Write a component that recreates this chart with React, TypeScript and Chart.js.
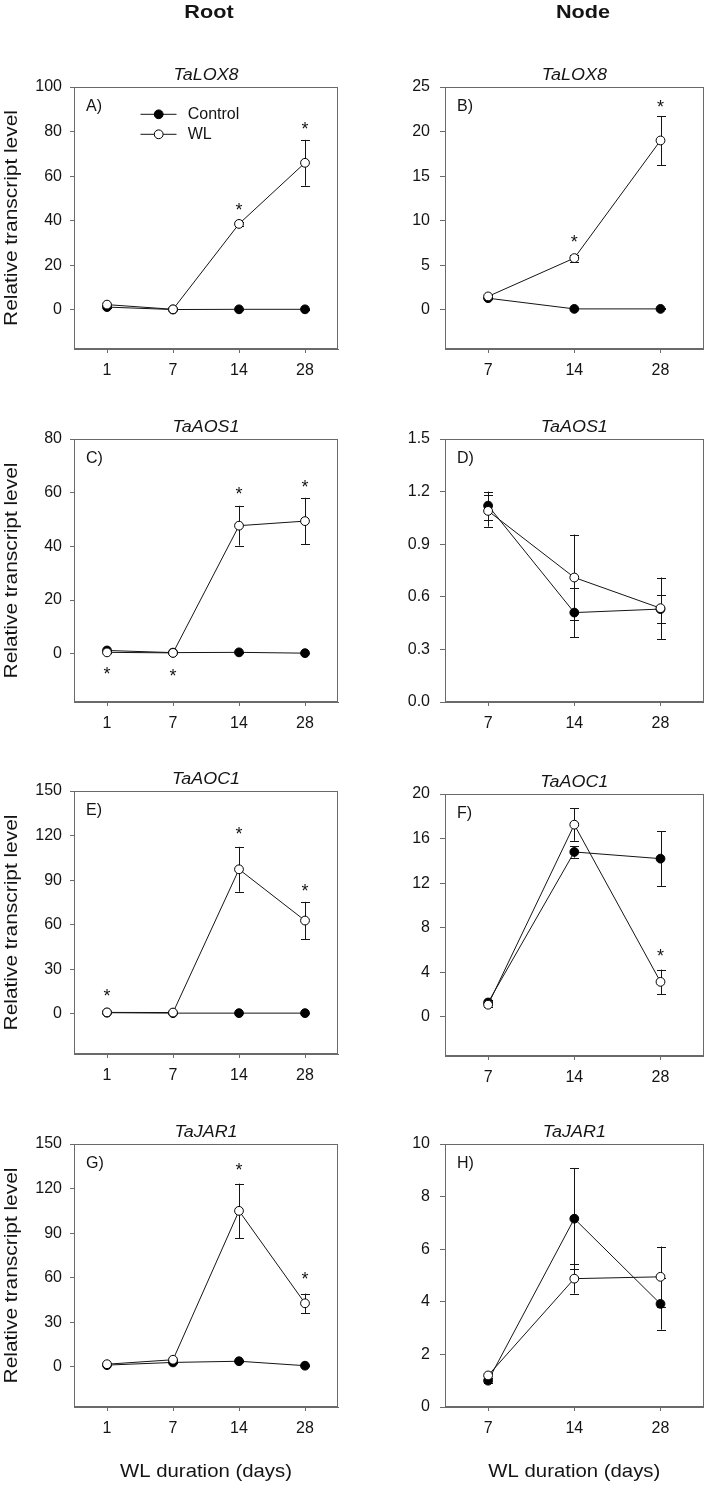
import React, { useEffect, useRef } from "react";
import { Chart, registerables } from "chart.js";

Chart.register(...registerables);

const FONT = "'Liberation Sans', Arial, Helvetica, sans-serif";

// ---------- categories ----------
const rootDays = ["1", "7", "14", "28"];
const nodeDays = ["7", "14", "28"];

// ---------- A) Root TaLOX8 ----------
const lox8RootControl = [1.3, 0.2, 0.3, 0.3];
const lox8RootControlErr = [0.3, 0.1, 0.1, 0.1];
const lox8RootWL = [2.4, 0.3, 38.6, 66.0];
const lox8RootWLErr = [0.4, 0.1, 1.0, 10.3];
const lox8RootStars = [[2, 47], [3, 83]];
const lox8RootTicks = [0, 20, 40, 60, 80, 100];

// ---------- B) Node TaLOX8 ----------
const lox8NodeControl = [1.3, 0.1, 0.1];
const lox8NodeControlErr = [0.1, 0.05, 0.05];
const lox8NodeWL = [1.5, 5.8, 19.0];
const lox8NodeWLErr = [0.2, 0.4, 2.75];
const lox8NodeStars = [[1, 8.1], [2, 23.3]];
const lox8NodeTicks = [0, 5, 10, 15, 20, 25];

// ---------- C) Root TaAOS1 ----------
const aos1RootControl = [1.2, 0.4, 0.5, 0.2];
const aos1RootControlErr = [0.3, 0.1, 0.2, 0.1];
const aos1RootWL = [0.5, 0.3, 47.7, 49.4];
const aos1RootWLErr = [0.2, 0.1, 7.4, 8.7];
const aos1RootStars = [[0, -6], [1, -6.6], [2, 61], [3, 63.7]];
const aos1RootTicks = [0, 20, 40, 60, 80];

// ---------- D) Node TaAOS1 ----------
const aos1NodeControl = [1.12, 0.51, 0.53];
const aos1NodeControlErr = [0.08, 0.14, 0.08];
const aos1NodeWL = [1.09, 0.71, 0.535];
const aos1NodeWLErr = [0.09, 0.245, 0.175];
const aos1NodeStars: number[][] = [];
const aos1NodeTicks = [0, 0.3, 0.6, 0.9, 1.2, 1.5];

// ---------- E) Root TaAOC1 ----------
const aoc1RootControl = [0.8, 0.5, 0.5, 0.5];
const aoc1RootControlErr = [0.3, 0.1, 0.1, 0.1];
const aoc1RootWL = [1.0, 0.9, 97.3, 62.8];
const aoc1RootWLErr = [0.5, 0.3, 15.1, 12.6];
const aoc1RootStars = [[0, 15], [2, 123.7], [3, 85.6]];
const aoc1RootTicks = [0, 30, 60, 90, 120, 150];

// ---------- F) Node TaAOC1 ----------
const aoc1NodeControl = [1.3, 14.8, 14.2];
const aoc1NodeControlErr = [0.2, 0.5, 2.45];
const aoc1NodeWL = [1.1, 17.25, 3.15];
const aoc1NodeWLErr = [0.2, 1.45, 1.1];
const aoc1NodeStars = [[2, 5.85]];
const aoc1NodeTicks = [0, 4, 8, 12, 16, 20];

// ---------- G) Root TaJAR1 ----------
const jar1RootControl = [1.2, 3.0, 3.8, 0.8];
const jar1RootControlErr = [0.2, 0.4, 0.6, 0.2];
const jar1RootWL = [1.8, 4.8, 105.0, 42.8];
const jar1RootWLErr = [0.3, 0.5, 18.3, 6.5];
const jar1RootStars = [[2, 135.6], [3, 62]];
const jar1RootTicks = [0, 30, 60, 90, 120, 150];

// ---------- H) Node TaJAR1 ----------
const jar1NodeControl = [1.0, 7.16, 3.92];
const jar1NodeControlErr = [0.1, 1.93, 0.98];
const jar1NodeWL = [1.2, 4.88, 4.95];
const jar1NodeWLErr = [0.1, 0.57, 1.15];
const jar1NodeStars: number[][] = [];
const jar1NodeTicks = [0, 2, 4, 6, 8, 10];

type Rect = { l: number; t: number; r: number; b: number };
type PanelCfg = {
  label: string;
  gene: string;
  col: number;
  row: number;
  plot: Rect;
  days: string[];
  control: number[];
  controlErr: number[];
  wl: number[];
  wlErr: number[];
  stars: number[][];
  yMin: number;
  yMax: number;
  yTicks: number[];
  decimals: number;
};

const panels: PanelCfg[] = [
  { label: "A)", gene: "TaLOX8", col: 0, row: 0, plot: { l: 74, t: 87, r: 338, b: 349 }, days: rootDays,
    control: lox8RootControl, controlErr: lox8RootControlErr, wl: lox8RootWL, wlErr: lox8RootWLErr,
    stars: lox8RootStars, yMin: -17.5, yMax: 100, yTicks: lox8RootTicks, decimals: 0 },
  { label: "B)", gene: "TaLOX8", col: 1, row: 0, plot: { l: 445, t: 87, r: 708, b: 349 }, days: nodeDays,
    control: lox8NodeControl, controlErr: lox8NodeControlErr, wl: lox8NodeWL, wlErr: lox8NodeWLErr,
    stars: lox8NodeStars, yMin: -4.4, yMax: 25, yTicks: lox8NodeTicks, decimals: 0 },
  { label: "C)", gene: "TaAOS1", col: 0, row: 1, plot: { l: 74, t: 439, r: 338, b: 702 }, days: rootDays,
    control: aos1RootControl, controlErr: aos1RootControlErr, wl: aos1RootWL, wlErr: aos1RootWLErr,
    stars: aos1RootStars, yMin: -18, yMax: 80, yTicks: aos1RootTicks, decimals: 0 },
  { label: "D)", gene: "TaAOS1", col: 1, row: 1, plot: { l: 445, t: 439, r: 708, b: 702 }, days: nodeDays,
    control: aos1NodeControl, controlErr: aos1NodeControlErr, wl: aos1NodeWL, wlErr: aos1NodeWLErr,
    stars: aos1NodeStars, yMin: 0, yMax: 1.5, yTicks: aos1NodeTicks, decimals: 1 },
  { label: "E)", gene: "TaAOC1", col: 0, row: 2, plot: { l: 74, t: 791, r: 338, b: 1054 }, days: rootDays,
    control: aoc1RootControl, controlErr: aoc1RootControlErr, wl: aoc1RootWL, wlErr: aoc1RootWLErr,
    stars: aoc1RootStars, yMin: -27, yMax: 150, yTicks: aoc1RootTicks, decimals: 0 },
  { label: "F)", gene: "TaAOC1", col: 1, row: 2, plot: { l: 445, t: 794, r: 708, b: 1056 }, days: nodeDays,
    control: aoc1NodeControl, controlErr: aoc1NodeControlErr, wl: aoc1NodeWL, wlErr: aoc1NodeWLErr,
    stars: aoc1NodeStars, yMin: -3.5, yMax: 20, yTicks: aoc1NodeTicks, decimals: 0 },
  { label: "G)", gene: "TaJAR1", col: 0, row: 3, plot: { l: 74, t: 1144, r: 338, b: 1407 }, days: rootDays,
    control: jar1RootControl, controlErr: jar1RootControlErr, wl: jar1RootWL, wlErr: jar1RootWLErr,
    stars: jar1RootStars, yMin: -27, yMax: 150, yTicks: jar1RootTicks, decimals: 0 },
  { label: "H)", gene: "TaJAR1", col: 1, row: 3, plot: { l: 445, t: 1144, r: 708, b: 1407 }, days: nodeDays,
    control: jar1NodeControl, controlErr: jar1NodeControlErr, wl: jar1NodeWL, wlErr: jar1NodeWLErr,
    stars: jar1NodeStars, yMin: 0, yMax: 10, yTicks: jar1NodeTicks, decimals: 0 },
];

const AXIS_GRAY = "#6a6a6a";
const INK = "#141414";

function drawText(
  ctx: CanvasRenderingContext2D, text: string, x: number, y: number, font: string,
  sx = 1, align: CanvasTextAlign = "center", baseline: CanvasTextBaseline = "middle", rotate = 0
) {
  ctx.save();
  ctx.translate(x, y);
  if (rotate) ctx.rotate(rotate);
  ctx.scale(sx, 1);
  ctx.font = font;
  ctx.fillStyle = INK;
  ctx.textAlign = align;
  ctx.textBaseline = baseline;
  ctx.fillText(text, 0, 0);
  ctx.restore();
}

function PanelChart({ cfg }: { cfg: PanelCfg }) {
  const ref = useRef<HTMLCanvasElement>(null);
  const isRoot = cfg.col === 0;
  const canvasLeft = isRoot ? 0 : 355;
  const canvasWidth = isRoot ? 350 : 354;
  const padTop = cfg.row === 0 ? cfg.plot.t : 50;
  const padBottom = cfg.row === 3 ? 78 : 45;
  const canvasTop = cfg.plot.t - padTop;
  const canvasHeight = cfg.plot.b - cfg.plot.t + padTop + padBottom;
  const yAxisWidth = cfg.plot.l - canvasLeft;
  const padRight = canvasWidth - (cfg.plot.r - canvasLeft);

  useEffect(() => {
    const canvas = ref.current!;
    const overlay = {
      id: "overlay" + cfg.label,
      beforeDatasetsDraw(chart: any) {
        const ctx = chart.ctx as CanvasRenderingContext2D;
        const xs = chart.scales.x;
        const ys = chart.scales.y;
        ctx.save();
        ctx.strokeStyle = INK;
        ctx.lineWidth = 1;
        const series = [
          [cfg.control, cfg.controlErr],
          [cfg.wl, cfg.wlErr],
        ];
        series.forEach(([vals, errs]) => {
          vals.forEach((v, i) => {
            const e = errs[i];
            const x = Math.round(xs.getPixelForValue(i)) + 0.5;
            const y1 = ys.getPixelForValue(v + e);
            const y2 = ys.getPixelForValue(v - e);
            ctx.beginPath();
            ctx.moveTo(x, y1);
            ctx.lineTo(x, y2);
            ctx.moveTo(x - 4.5, Math.round(y1) + 0.5);
            ctx.lineTo(x + 4.5, Math.round(y1) + 0.5);
            ctx.moveTo(x - 4.5, Math.round(y2) + 0.5);
            ctx.lineTo(x + 4.5, Math.round(y2) + 0.5);
            ctx.stroke();
          });
        });
        ctx.restore();
      },
      afterDraw(chart: any) {
        const ctx = chart.ctx as CanvasRenderingContext2D;
        const a = chart.chartArea;
        const xs = chart.scales.x;
        const ys = chart.scales.y;
        // frame
        ctx.save();
        ctx.strokeStyle = AXIS_GRAY;
        ctx.lineWidth = 1;
        ctx.strokeRect(Math.round(a.left) + 0.5, Math.round(a.top) + 0.5,
          Math.round(a.right - a.left) - 1, Math.round(a.bottom - a.top) - 1);
        ctx.restore();
        const cx = (a.left + a.right) / 2;
        // gene title
        drawText(ctx, cfg.gene, cx, a.top - 11, `italic 16px ${FONT}`, 1.12);
        // panel label
        drawText(ctx, cfg.label, a.left + 12, a.top + 20, `16px ${FONT}`, 1, "left");
        // asterisks
        cfg.stars.forEach(([i, v]) => {
          drawText(ctx, "*", xs.getPixelForValue(i), ys.getPixelForValue(v) + 10.4, `18px ${FONT}`, 1, "center", "alphabetic");
        });
        // column titles
        if (cfg.row === 0) {
          drawText(ctx, isRoot ? "Root" : "Node", isRoot ? 209 : 583 - canvasLeft, 12.5,
            `bold 18.5px ${FONT}`, 1.17);
        }
        // y axis title
        if (isRoot) {
          drawText(ctx, "Relative transcript level", 12, (a.top + a.bottom) / 2,
            `18px ${FONT}`, 1.16, "center", "middle", -Math.PI / 2);
        }
        // x axis title
        if (cfg.row === 3) {
          drawText(ctx, "WL duration (days)", cx, a.bottom + 65, `18.5px ${FONT}`, 1.1);
        }
        // legend
        if (cfg.label === "A)") {
          const items = [
            { text: "Control", fill: "#000000", y: 114.3 },
            { text: "WL", fill: "#ffffff", y: 134.3 },
          ];
          items.forEach((it) => {
            ctx.save();
            ctx.strokeStyle = INK;
            ctx.lineWidth = 1;
            ctx.beginPath();
            ctx.moveTo(140.5, it.y);
            ctx.lineTo(176.5, it.y);
            ctx.stroke();
            ctx.beginPath();
            ctx.arc(158.7, it.y, 4.4, 0, Math.PI * 2);
            ctx.fillStyle = it.fill;
            ctx.fill();
            ctx.strokeStyle = "#000";
            ctx.stroke();
            ctx.restore();
            drawText(ctx, it.text, 187.7, it.y, `16px ${FONT}`, 1, "left");
          });
        }
      },
    };

    const chart = new Chart(canvas, {
      type: "line",
      data: {
        datasets: [
          {
            label: "Control",
            data: cfg.control.map((v, i) => ({ x: i, y: v })),
            borderColor: INK,
            borderWidth: 1,
            pointRadius: 4.4,
            pointBorderWidth: 1,
            pointBackgroundColor: "#000000",
            pointBorderColor: "#000000",
            tension: 0,
            order: 1,
          },
          {
            label: "WL",
            data: cfg.wl.map((v, i) => ({ x: i, y: v })),
            borderColor: INK,
            borderWidth: 1,
            pointRadius: 4.4,
            pointBorderWidth: 1,
            pointBackgroundColor: "#ffffff",
            pointBorderColor: "#000000",
            tension: 0,
            order: 0,
          },
        ],
      },
      options: {
        animation: false,
        responsive: false,
        events: [],
        layout: { padding: { top: padTop, right: padRight, left: 0, bottom: 0 } },
        plugins: { legend: { display: false }, tooltip: { enabled: false }, title: { display: false } },
        scales: {
          x: {
            type: "linear",
            min: -0.5,
            max: cfg.days.length - 0.5,
            afterBuildTicks: (s: any) => {
              s.ticks = cfg.days.map((_, i) => ({ value: i }));
            },
            afterFit: (s: any) => {
              s.height = padBottom;
            },
            grid: { drawOnChartArea: false, drawTicks: true, tickLength: 4, color: AXIS_GRAY },
            border: { display: true, color: AXIS_GRAY },
            ticks: {
              autoSkip: false,
              maxRotation: 0,
              padding: 8,
              color: INK,
              font: { family: FONT, size: 16 },
              callback: (v: any) => cfg.days[Math.round(Number(v))] ?? "",
            },
          },
          y: {
            type: "linear",
            min: cfg.yMin,
            max: cfg.yMax,
            afterBuildTicks: (s: any) => {
              s.ticks = cfg.yTicks.map((v) => ({ value: v }));
            },
            afterFit: (s: any) => {
              s.width = yAxisWidth;
            },
            grid: { drawOnChartArea: false, drawTicks: true, tickLength: isRoot ? 4 : 5, color: AXIS_GRAY },
            border: { display: true, color: AXIS_GRAY },
            ticks: {
              autoSkip: false,
              padding: isRoot ? 8 : 10,
              color: INK,
              font: { family: FONT, size: 16 },
              callback: (v: any) => Number(v).toFixed(cfg.decimals),
            },
          },
        },
      },
      plugins: [overlay],
    } as any);
    return () => chart.destroy();
  }, []);

  return (
    <canvas
      ref={ref}
      width={canvasWidth}
      height={canvasHeight}
      style={{ position: "absolute", left: canvasLeft, top: canvasTop, width: canvasWidth, height: canvasHeight }}
    />
  );
}

export default function App() {
  return (
    <div style={{ position: "absolute", left: 0, top: 0, width: 709, height: 1485, background: "#ffffff", overflow: "hidden" }}>
      {panels.map((p) => (
        <PanelChart key={p.label} cfg={p} />
      ))}
    </div>
  );
}
